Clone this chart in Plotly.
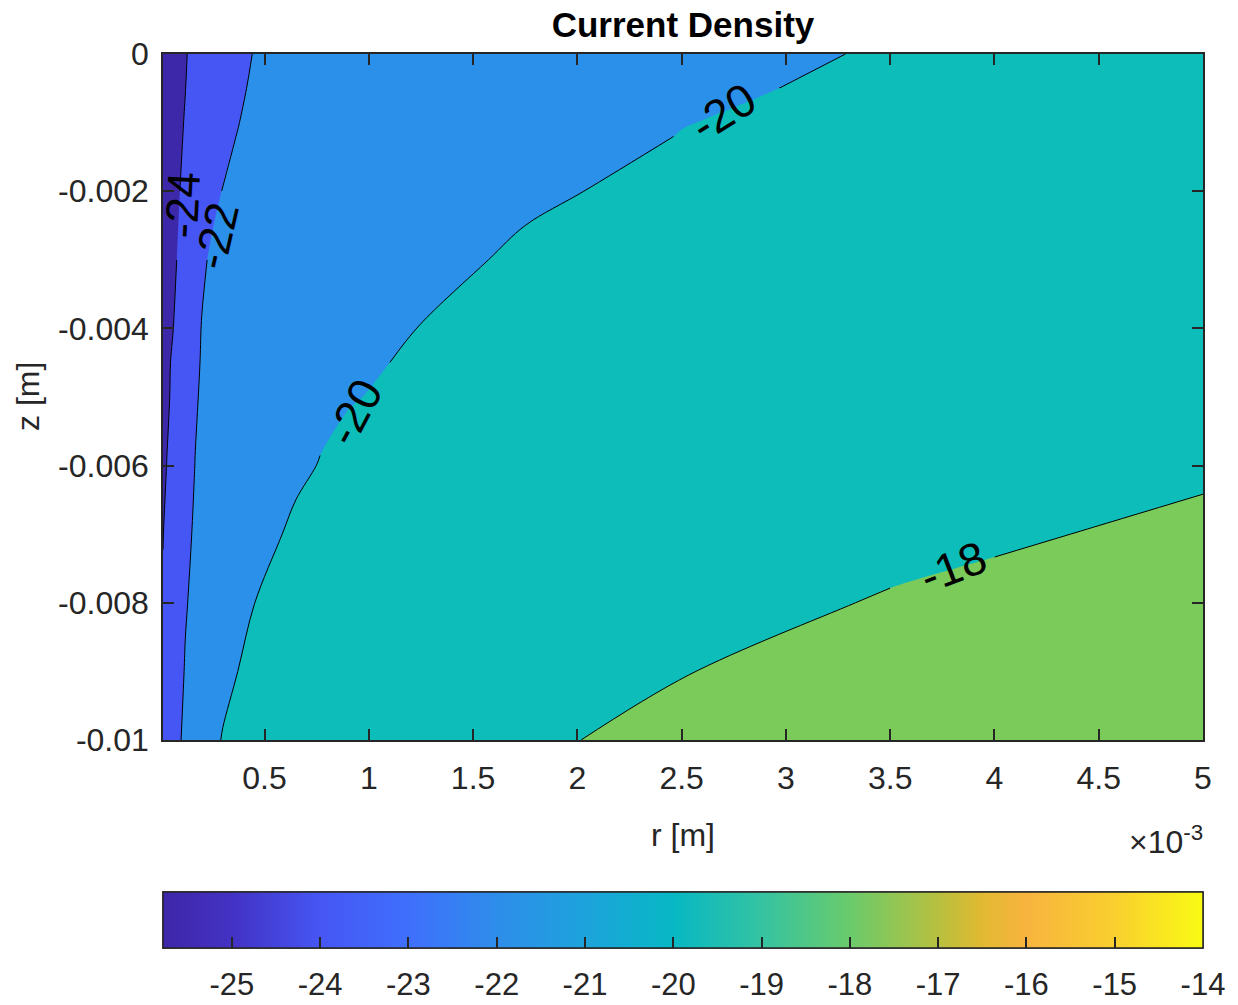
import plotly.graph_objects as go

# Radial positions of the grid nodes [mm] and depths [mm]
r_mm = [0.013, 0.06, 0.12, 0.2, 0.3, 0.45, 0.65, 0.9, 1.25, 1.75, 2.5, 3.5, 4.0, 5.0]
z_mm = [0, -0.5, -1, -1.2, -2, -3, -4, -4.5, -5, -5.85, -6, -7, -8, -9, -10]

# Current density on the (z, r) grid, one row per depth
J_z0 = [-25.78, -24.96, -24.09, -23.30, -22.62, -21.96, -21.42, -21.01, -20.66, -20.37, -20.11, -19.97, -19.92, -19.84]
J_z05 = [-25.65, -24.90, -24.02, -23.18, -22.50, -21.84, -21.31, -20.91, -20.58, -20.30, -20.07, -19.92, -19.87, -19.80]
J_z1 = [-25.50, -24.81, -23.87, -23.03, -22.34, -21.70, -21.18, -20.80, -20.48, -20.22, -20.01, -19.87, -19.82, -19.75]
J_z12 = [-25.45, -24.77, -23.81, -22.96, -22.27, -21.63, -21.13, -20.75, -20.44, -20.19, -19.99, -19.85, -19.80, -19.73]
J_z2 = [-25.30, -24.60, -23.53, -22.64, -21.96, -21.36, -20.89, -20.56, -20.29, -20.06, -19.90, -19.78, -19.74, -19.69]
J_z3 = [-25.10, -24.41, -23.10, -22.16, -21.51, -20.97, -20.59, -20.32, -20.11, -19.94, -19.83, -19.74, -19.71, -19.68]
J_z4 = [-24.80, -24.05, -22.84, -21.95, -21.33, -20.82, -20.45, -20.19, -19.99, -19.83, -19.71, -19.63, -19.60, -19.56]
J_z45 = [-24.65, -23.80, -22.73, -21.90, -21.29, -20.77, -20.39, -20.12, -19.91, -19.74, -19.61, -19.51, -19.49, -19.44]
J_z5 = [-24.50, -23.77, -22.38, -21.89, -21.42, -20.91, -20.45, -20.07, -19.72, -19.42, -19.15, -18.96, -18.89, -18.80]
J_z585 = [-24.35, -23.48, -22.30, -21.79, -21.30, -20.74, -20.21, -19.76, -19.34, -18.95, -18.62, -18.36, -18.28, -18.15]
J_z6 = [-24.30, -23.47, -22.29, -21.78, -21.28, -20.72, -20.18, -19.72, -19.28, -18.89, -18.53, -18.27, -18.18, -18.05]
J_z7 = [-24.05, -22.88, -22.25, -21.60, -21.00, -20.37, -19.82, -19.37, -18.96, -18.62, -18.32, -18.11, -18.04, -17.93]
J_z8 = [-23.83, -22.94, -22.11, -21.33, -20.67, -20.01, -19.46, -19.04, -18.69, -18.39, -18.15, -17.97, -17.92, -17.83]
J_z9 = [-23.70, -22.92, -21.90, -21.02, -20.31, -19.66, -19.15, -18.77, -18.46, -18.21, -18.01, -17.87, -17.82, -17.76]
J_z10 = [-23.60, -22.80, -21.59, -20.64, -19.93, -19.31, -18.86, -18.53, -18.27, -18.05, -17.91, -17.79, -17.76, -17.71]
J_rows = [J_z0, J_z05, J_z1, J_z12, J_z2, J_z3, J_z4, J_z45, J_z5, J_z585, J_z6, J_z7, J_z8, J_z9, J_z10]

# Contour levels
levels = [-24, -22, -20, -18]
level_step = 2

# Inline level labels: text, r [mm], z [mm], rotation [deg]
label_text = ["-24", "-22", "-20", "-20", "-18"]
label_r_mm = [0.106, 0.27, 2.70, 0.93, 3.80]
label_z_mm = [-2.20, -2.66, -0.85, -5.22, -7.48]
label_angle = [-87, -77, -32, -62, -21]

# Colour limits of the colour bar
clim = [-25.78, -14]
cbar_ticks = [-25, -24, -23, -22, -21, -20, -19, -18, -17, -16, -15, -14]

# Axis ticks
r_ticks_mm = [0.5, 1, 1.5, 2, 2.5, 3, 3.5, 4, 4.5, 5]
r_tick_text = ["0.5", "1", "1.5", "2", "2.5", "3", "3.5", "4", "4.5", "5"]
z_ticks = [0, -0.002, -0.004, -0.006, -0.008, -0.01]
z_tick_text = ["0", "-0.002", "-0.004", "-0.006", "-0.008", "-0.01"]

# Band colours: below -24, -24..-22, -22..-20, -20..-18, above -18
band_colors = ["#3d28aa", "#4656f5", "#2b90e9", "#0dbdba", "#7acb5a"]

# Parula-like colour bar stops (value, colour)
cbar_values = [-25.78, -25, -24, -23, -22, -21, -20, -19, -18, -17, -16.5, -16, -15, -14]
cbar_colors = ["#3e26a8", "#4332c4", "#4656f3", "#3f6ffd", "#2e8dea", "#1da3dc", "#07b8c4",
               "#35c3a2", "#6acb6b", "#b7c03f", "#e2b932", "#f8b43f", "#f9cf2e", "#f9fa14"]

FONT = "Liberation Sans, Arial, Helvetica, sans-serif"
AX = "#262626"

r_m = [v * 1e-3 for v in r_mm]
z_m = [v * 1e-3 for v in z_mm]

# stepped colour scale so each contour band gets a flat colour
edges = [0.0, 0.125, 0.375, 0.625, 0.875, 1.0]
band_scale = []
for i, c in enumerate(band_colors):
    band_scale.append([edges[i], c])
    band_scale.append([edges[i + 1], c])

span = clim[1] - clim[0]
cbar_scale = [[(v - clim[0]) / span, c] for v, c in zip(cbar_values, cbar_colors)]
cbar_scale[0][0] = 0.0
cbar_scale[-1][0] = 1.0

fig = go.Figure()

# filled bands
fig.add_trace(go.Contour(
    x=r_m, y=z_m, z=J_rows,
    autocontour=False,
    contours=dict(start=levels[0], end=levels[-1], size=level_step, coloring="fill"),
    colorscale=band_scale,
    line=dict(width=0),
    showscale=False,
    hoverinfo="skip",
))


def iso_lines(lo, hi, rows, cols):
    """Black iso-lines for levels lo..hi over a block of the grid."""
    r0, r1 = cols
    z0, z1 = rows
    fig.add_trace(go.Contour(
        x=r_m[r0:r1], y=z_m[z0:z1], z=[row[r0:r1] for row in J_rows[z0:z1]],
        autocontour=False,
        contours=dict(start=lo, end=hi, size=level_step, coloring="none"),
        line=dict(color="black", width=1),
        showscale=False, hoverinfo="skip",
    ))


n_r, n_z = len(r_m), len(z_m)
# -24 / -22 lines, left open where their labels sit
iso_lines(-24, -22, (0, 5), (0, n_r))
iso_lines(-24, -22, (5, n_z), (0, n_r))
# -20 line, open at its two labels
iso_lines(-20, -20, (0, 2), (0, n_r))
iso_lines(-20, -20, (3, 8), (0, n_r))
iso_lines(-20, -20, (9, n_z), (0, n_r))
# -18 line, open at its label
iso_lines(-18, -18, (0, n_z), (0, 12))
iso_lines(-18, -18, (0, n_z), (12, n_r))

cbar_common = dict(orientation="h", x=0.5, xanchor="center",
                   y=(948 - 892) / 894, yanchor="top", len=1, lenmode="fraction",
                   thickness=56, thicknessmode="pixels", xpad=0, ypad=0,
                   outlinecolor=AX, outlinewidth=1.5)

# colour bar numbers (pushed below the bar by transparent outside ticks)
fig.add_trace(go.Scatter(
    x=[r_m[-1], r_m[-1]], y=[z_m[0], z_m[0]], mode="markers",
    marker=dict(size=1, opacity=0, color=clim, cmin=clim[0], cmax=clim[1],
                colorscale=cbar_scale, showscale=True,
                colorbar=dict(**cbar_common, ticks="outside", ticklen=10,
                              tickcolor="rgba(0,0,0,0)",
                              tickvals=cbar_ticks, ticktext=[str(t) for t in cbar_ticks],
                              tickfont=dict(family=FONT, size=31, color=AX))),
    hoverinfo="skip", showlegend=False,
))
# colour bar with inside tick marks
fig.add_trace(go.Scatter(
    x=[r_m[-1], r_m[-1]], y=[z_m[0], z_m[0]], mode="markers",
    marker=dict(size=1, opacity=0, color=clim, cmin=clim[0], cmax=clim[1],
                colorscale=cbar_scale, showscale=True,
                colorbar=dict(**cbar_common, ticks="inside", ticklen=11, tickwidth=1.5,
                              tickcolor=AX, tickvals=cbar_ticks, showticklabels=False)),
    hoverinfo="skip", showlegend=False,
))

axis_common = dict(showline=True, linecolor=AX, linewidth=1.5, mirror="ticks",
                   ticks="inside", ticklen=11, tickwidth=1.5, tickcolor=AX,
                   showgrid=False, zeroline=False,
                   tickfont=dict(family=FONT, size=32, color=AX))

annotations = [
    dict(text="r [m]", x=0.5, y=(948 - 835) / 894, xref="paper", yref="paper",
         xanchor="center", yanchor="middle", showarrow=False,
         font=dict(family=FONT, size=32, color=AX)),
    dict(text="z [m]", x=(28 - 163) / 1040, y=(948 - 397) / 894, xref="paper", yref="paper",
         xanchor="center", yanchor="middle", showarrow=False, textangle=-90,
         font=dict(family=FONT, size=32, color=AX)),
    dict(text="\u00d710<sup>-3</sup>", x=1.002, y=(948 - 840) / 894, xref="paper", yref="paper",
         xanchor="right", yanchor="middle", showarrow=False,
         font=dict(family=FONT, size=32, color=AX)),
]
for t, rr, zz, ang in zip(label_text, label_r_mm, label_z_mm, label_angle):
    annotations.append(dict(text=t, x=rr * 1e-3, y=zz * 1e-3, xref="x", yref="y",
                            xanchor="center", yanchor="middle", showarrow=False,
                            textangle=ang, font=dict(family=FONT, size=46, color="black")))

fig.update_layout(
    width=1238, height=1005,
    margin=dict(l=163, r=35, t=54, b=57, autoexpand=False),
    paper_bgcolor="white", plot_bgcolor="white",
    font=dict(family=FONT, color=AX),
    title=dict(text="<b>Current Density</b>", x=0.5, xref="paper", xanchor="center",
               y=1 - 25 / 1005, yref="container", yanchor="middle",
               font=dict(family=FONT, size=35, color="black")),
    xaxis=dict(range=[r_m[0], r_m[-1]], domain=[0, 1],
               tickvals=[v * 1e-3 for v in r_ticks_mm], ticktext=r_tick_text,
               ticklabelstandoff=9, **axis_common),
    yaxis=dict(range=[z_m[-1], z_m[0]], domain=[(948 - 740) / 894, 1],
               tickvals=z_ticks, ticktext=z_tick_text,
               ticklabelstandoff=6, **axis_common),
    showlegend=False,
    annotations=annotations,
)

fig.write_html("out.html")
